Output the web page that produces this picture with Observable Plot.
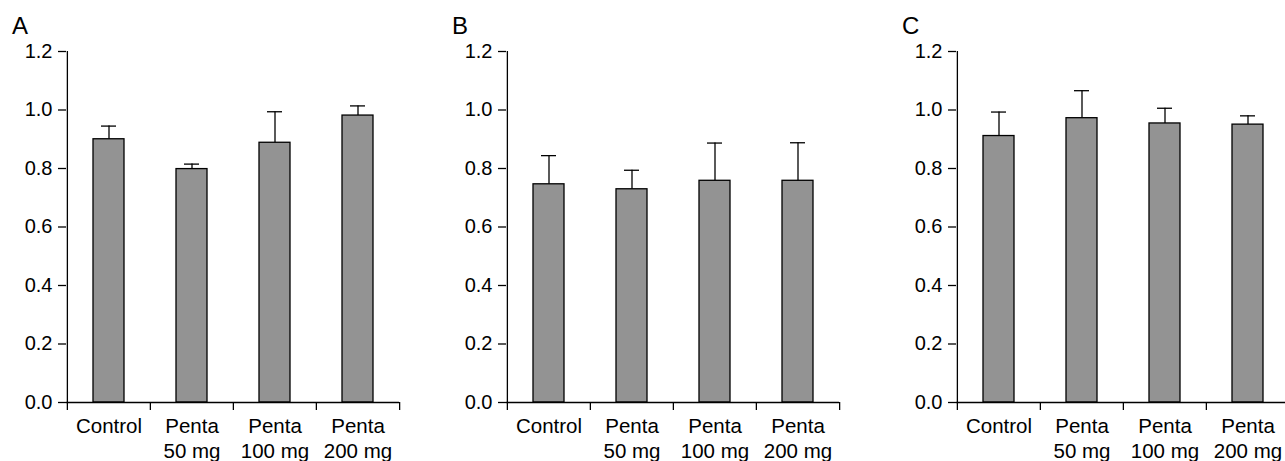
<!DOCTYPE html>
<html>
<head>
<meta charset="utf-8">
<script src="https://cdn.jsdelivr.net/npm/d3@7"></script>
<script src="https://cdn.jsdelivr.net/npm/@observablehq/plot@0.6"></script>
<style>
  html, body { margin: 0; padding: 0; background: #fff; overflow: hidden; }
  #wrap { position: relative; width: 1285px; height: 461px; overflow: hidden; }
  .panel { position: absolute; top: 0; width: 420px; }
  .panel svg { max-width: none !important; }
</style>
</head>
<body>
<div id="wrap"></div>
<script>
const categories = ["Control", "Penta 50 mg", "Penta 100 mg", "Penta 200 mg"];
const tickLabels = ["Control", "Penta\n50 mg", "Penta\n100 mg", "Penta\n200 mg"];
const yTicks = [0, 0.2, 0.4, 0.6, 0.8, 1.0, 1.2];
const panelLetters = ["A", "B", "C"];

const meanA = [0.900, 0.798, 0.888, 0.981];
const errA  = [0.045, 0.017, 0.106, 0.033];
const meanB = [0.746, 0.729, 0.758, 0.758];
const errB  = [0.098, 0.065, 0.129, 0.130];
const meanC = [0.911, 0.972, 0.954, 0.950];
const errC  = [0.082, 0.094, 0.052, 0.030];

const panelLeft = [0, 440, 890];

function makePanel(letter, means, errs) {
  const data = categories.map((c, i) => ({cat: c, mean: means[i], upper: means[i] + errs[i]}));
  const W = 420, mL = 66, mR = 21;
  const half = (W - mL - mR) / categories.length / 2;
  const lw = 1.3;
  const plot = Plot.plot({
    width: W, height: 461,
    marginLeft: mL, marginRight: mR, marginTop: 51, marginBottom: 59,
    style: {fontFamily: "'Liberation Sans', Arial, sans-serif", fontSize: "20px", color: "#000", background: "white", overflow: "visible", maxWidth: "none"},
    x: {domain: categories, padding: 0, axis: null},
    y: {domain: [0, 1.2], axis: null},
    marks: [
      Plot.ruleX(data, {x: "cat", y1: "mean", y2: "upper", stroke: "#000", strokeWidth: lw}),
      Plot.tickY(data, {x: "cat", y: "upper", inset: 34, stroke: "#000", strokeWidth: lw}),
      Plot.barY(data, {x: "cat", y: "mean", fill: "#939393", stroke: "#000", strokeWidth: lw, insetLeft: 26, insetRight: 26}),
      Plot.ruleY([0], {stroke: "#000", strokeWidth: lw}),
      Plot.ruleX([categories[0]], {dx: -half, stroke: "#000", strokeWidth: lw}),
      Plot.axisY({ticks: yTicks, tickSize: 8, tickPadding: 6, tickFormat: d3.format(".1f"), strokeWidth: lw, fontSize: 20, label: null}),
      Plot.axisX({tickSize: 8, tickFormat: () => "", dx: -half, strokeWidth: lw, label: null}),
      Plot.axisX({ticks: [categories[categories.length - 1]], tickSize: 8, tickFormat: () => "", dx: half, strokeWidth: lw, label: null}),
      Plot.axisX({tickSize: 0, tickPadding: 12, tickFormat: d => tickLabels[categories.indexOf(d)], lineHeight: 1.25, fontSize: 20.5, label: null})
    ]
  });
  d3.select(plot).append("text")
    .attr("x", 12).attr("y", 34)
    .attr("text-anchor", "start")
    .attr("font-family", "'Liberation Sans', Arial, sans-serif")
    .attr("font-size", 24)
    .attr("fill", "#000")
    .text(letter);
  return plot;
}

const wrap = document.getElementById("wrap");
[[meanA, errA], [meanB, errB], [meanC, errC]].forEach(([m, e], i) => {
  const div = document.createElement("div");
  div.className = "panel";
  div.style.left = panelLeft[i] + "px";
  div.appendChild(makePanel(panelLetters[i], m, e));
  wrap.appendChild(div);
});
</script>
</body>
</html>
